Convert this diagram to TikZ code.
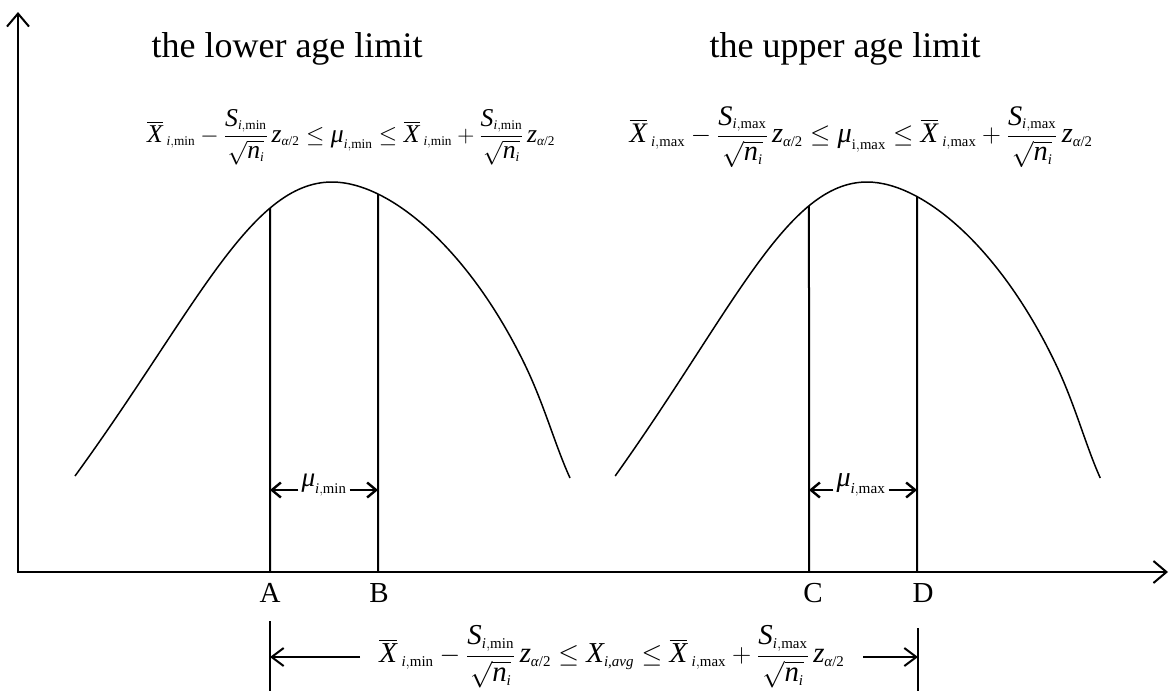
\documentclass[tikz,border=0pt]{standalone}
\usepackage{graphicx}
\usepackage{amsmath}
\usepackage{fontspec}
\setmainfont{Liberation Serif}
\usetikzlibrary{arrows.meta,intersections}
\DeclareMathSizes{27}{27}{14}{10}
\DeclareMathSizes{24}{24}{13}{10}
\newcommand{\fitw}[2]{\resizebox{#1}{!}{#2}}
\newcommand{\ti}[1]{\text{\itshape #1}}
\newcommand{\tu}[1]{\text{\upshape #1}}
\newcommand{\mn}{\tu{min}}
\newcommand{\mx}{\tu{max}}
\newcommand{\za}{\,\ti{z}_{\ti{α}\tu{/2}}}
\newcommand{\Xb}{\overline{\ti{X}}\,}
\newcommand{\fr}[1]{\frac{\ti{S}_{\ti{i},#1}}{\sqrt{\ti{n}_{\ti{i}}}}}
\newcommand{\bellcurve}{(-257,476) .. controls (-137,311) and (-82,182) .. (0,182) .. controls (58,182) and (138,250) .. (194,367) .. controls (213,407) and (223,445) .. (238,478)}
\tikzset{axtip/.tip={Straight Barb[length=13pt,width=22pt,line width=2pt]}}
\begin{document}
\begin{tikzpicture}[x=1pt,y=-1pt,
  axisline/.style={line width=2.2pt,line join=miter},
  curve/.style={line width=1.5pt},
  vline/.style={line width=2pt},
  muarrow/.style={line width=2.6pt,-{Straight Barb[length=9pt,width=15pt,line width=2.4pt]}},
  botarrow/.style={line width=2pt,-{Straight Barb[length=12pt,width=18pt,line width=2pt]}},
  title/.style={font=\fontsize{36}{36}\selectfont,anchor=base,inner sep=0pt},
  letter/.style={font=\fontsize{29}{29}\selectfont,anchor=base,inner sep=0pt},
  formula/.style={inner sep=0pt,font=\fontsize{27}{32}\selectfont},
  mulabel/.style={inner sep=0pt,font=\fontsize{24}{28}\selectfont}]
\useasboundingbox (0,0) rectangle (1173,691);
\fill[white] (0,0) rectangle (1173,691);

% axes
\coordinate (O) at (18,572);
\coordinate (Ytip) at (18,12);
\coordinate (Xtip) at (1168,572);
\draw[axisline,axtip-axtip] (Ytip) -- (O) -- (Xtip);

% curves
\begin{scope}[shift={(332,0)}]
  \draw[curve,name path global=c1] \bellcurve;
\end{scope}
\begin{scope}[shift={(867,0)},xscale=0.98]
  \draw[curve,name path global=c2] \bellcurve;
\end{scope}

% vertical lines (from the curve down to the axis)
\coordinate (Ab) at (270,572);
\coordinate (Bb) at (378,572);
\coordinate (Cb) at (809,572);
\coordinate (Db) at (917,572);
\path[name path=vA] (Ab) -- +(0,-500);
\path[name path=vB] (Bb) -- +(0,-500);
\path[name path=vC] (Cb) -- +(0,-500);
\path[name path=vD] (Db) -- +(0,-500);
\path[name intersections={of=c1 and vA,by=At}];
\path[name intersections={of=c1 and vB,by=Bt}];
\path[name intersections={of=c2 and vC,by=Ct}];
\path[name intersections={of=c2 and vD,by=Dt}];
\draw[vline] (At) -- (Ab);
\draw[vline] (Bt) -- (Bb);
\draw[vline] (Ct) -- (Cb);
\draw[vline] (Dt) -- (Db);

% letters
\node[letter] (A) at (270,602) {A};
\node[letter] (B) at (379,602) {B};
\node[letter] (C) at (813,602) {C};
\node[letter] (D) at (923,602) {D};

% titles
\node[title] (tl) at (287,57) {the lower age limit};
\node[title] (tu) at (845,57) {the upper age limit};

% top formulas
\node[formula] (fl) at (351,137) {\fitw{408pt}{$\displaystyle \Xb_{\ti{i},\mn}-\fr{\mn}\za\le \ti{μ}_{\ti{i},\mn}\le \Xb_{\ti{i},\mn}+\fr{\mn}\za$}};
\node[formula] (fu) at (861,137) {\fitw{463pt}{$\displaystyle \Xb_{\ti{i},\mx}-\fr{\mx}\za\le \ti{μ}_{\tu{i},\mx}\le \Xb_{\ti{i},\mx}+\fr{\mx}\za$}};

% mu labels and arrows
\coordinate (Am) at (270,490); \coordinate (Bm) at (378,490);
\coordinate (Cm) at (809,490); \coordinate (Dm) at (917,490);
\node[mulabel] (mumin) at (324,485) {\fitw{45pt}{$\ti{μ}_{\ti{i},\mn}$}};
\node[mulabel] (mumax) at (861,485) {\fitw{49pt}{$\ti{μ}_{\ti{i},\mx}$}};
\draw[muarrow] ([xshift=-3pt]mumin.west |- Am) -- (Am);
\draw[muarrow] ([xshift=3pt]mumin.east |- Bm) -- (Bm);
\draw[muarrow] ([xshift=-3pt]mumax.west |- Cm) -- (Cm);
\draw[muarrow] ([xshift=3pt]mumax.east |- Dm) -- (Dm);

% bottom
\coordinate (Lt) at (270,621); \coordinate (Lb) at (270,691);
\coordinate (Rt) at (918,628); \coordinate (Rb) at (918,691);
\draw[vline] (Lt) -- (Lb);
\draw[vline] (Rt) -- (Rb);
\coordinate (La) at (270,657); \coordinate (Ra) at (918,657);
\coordinate (Ls) at (360,657); \coordinate (Rs) at (863,657);
\draw[botarrow] (Ls) -- (La);
\draw[botarrow] (Rs) -- (Ra);
\node[formula] (fb) at (612,657) {\fitw{465pt}{$\displaystyle \Xb_{\ti{i},\mn}-\fr{\mn}\za\le \ti{X}_{\ti{i,avg}}\le \Xb_{\ti{i},\mx}+\fr{\mx}\za$}};
\end{tikzpicture}
\end{document}
